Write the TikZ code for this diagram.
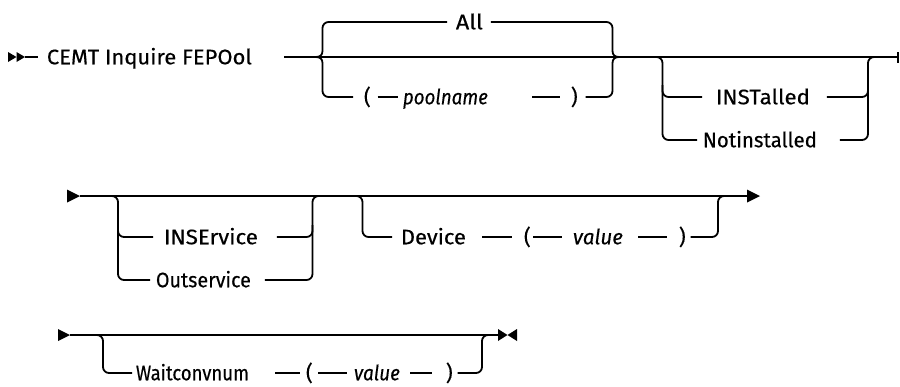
\documentclass[tikz,border=0pt]{standalone}
\usepackage{fontspec}
\usepackage{graphicx}
\setmainfont{Fira Sans}[FakeBold=0.35]
% set a token at a given width, keeping its height
\newcommand\tw[2]{\resizebox{#1}{\height}{#2}}
\begin{document}
\begin{tikzpicture}[x=1pt, y=-1pt, line width=1.8pt,
  tok/.style={inner sep=0pt, anchor=west, text height=14.5pt, text depth=0pt,
              font=\fontsize{21}{25}\selectfont},
  var/.style={tok, font=\fontsize{21}{25}\selectfont\itshape},
  rc/.style={rounded corners=6pt},
  tipfill/.style={fill=black, draw=none}]
\useasboundingbox (0,0) rectangle (900,386);

% ---------------- first line ----------------
\coordinate (st1) at (8,57);
\fill[tipfill] (8,52) -- (16.5,57) -- (8,62) -- cycle;
\fill[tipfill] (16.5,52) -- (25,57) -- (16.5,62) -- cycle;
\node[tok] (cmd) at (46,57) {\tw{205pt}{CEMT Inquire FEPOol}};
\draw ([xshift=17]st1) -- ([xshift=-8]cmd.west);

\coordinate (m1s) at (284,57);
\coordinate (m1e) at (898,57);
\draw (m1s) -- (m1e);
\draw ([yshift=-5.5]m1e) -- ([yshift=5.5]m1e);

% required choice: All (default) or ( poolname )
\node[tok] (all) at (455,22) {\tw{27pt}{All}};
\node[tok] (lp1) at (363,97) {(};
\node[var] (pool) at (402,97) {\tw{85pt}{poolname}};
\node[tok] (rp1) at (570,97) {)};

\draw[rc] ([xshift=-8]all.west) -| (322.5,45) [sharp corners] -- (322.5,51)
  .. controls (322.5,55) and (320,57) .. (316,57)
  .. controls (320,57) and (322.5,59) .. (322.5,63)
  [rc] |- ([xshift=-10]lp1.west);
\draw[rc] ([xshift=7]all.east) -| (612.5,45) [sharp corners] -- (612.5,51)
  .. controls (612.5,55) and (615,57) .. (619,57)
  .. controls (615,57) and (612.5,59) .. (612.5,63)
  [rc] |- ([xshift=7]rp1.east);
\draw ([xshift=6]lp1.east) -- ([xshift=-4]pool.west);
\draw ([xshift=-38]rp1.west) -- ([xshift=-10]rp1.west);

% optional choice: INSTalled / Notinstalled
\node[tok] (inst) at (715,97) {\tw{94pt}{INSTalled}};
\node[tok] (notinst) at (702,140) {\tw{114pt}{Notinstalled}};
\draw[rc] (650,57) -| (662.5,120) |- ([xshift=-5]notinst.west);
\draw[rc] (662.5,85) |- ([xshift=-13]inst.west);
\draw[rc] ([xshift=16]inst.east) -| (868,85);
\draw[rc] ([xshift=22]notinst.east) -| (868,100) |- (882,57);

% ---------------- second line ----------------
\coordinate (st2) at (67,196);
\coordinate (en2) at (760,196);
\fill[tipfill] (67,189.5) -- (80,196) -- (67,202.5) -- cycle;
\fill[tipfill] (747,189.5) -- (760,196) -- (747,202.5) -- cycle;
\draw ([xshift=13]st2) -- ([xshift=-13]en2);

% optional choice: INSErvice / Outservice
\node[tok] (inse) at (163,237) {\tw{94pt}{INSErvice}};
\node[tok] (outs) at (155,280) {\tw{95pt}{Outservice}};
\draw[rc] (106,196) -| (118,260) |- ([xshift=-5]outs.west);
\draw[rc] (118,225) |- ([xshift=-10]inse.west);
\draw[rc] ([xshift=18]inse.east) -| (312.5,225);
\draw[rc] ([xshift=13]outs.east) -| (312.5,215) |- (324,196);

% optional: Device ( value )
\node[tok] (dev) at (400,237) {\tw{65pt}{Device}};
\node[tok] (lp2) at (523,237) {(};
\node[var] (val2) at (572,237) {\tw{50pt}{value}};
\node[tok] (rp2) at (678,237) {)};
\draw[rc] (351,196) -| (362.5,215) |- ([xshift=-8]dev.west);
\draw ([xshift=-41]lp2.west) -- ([xshift=-11]lp2.west);
\draw ([xshift=-39]val2.west) -- ([xshift=-10]val2.west);
\draw ([xshift=-40]rp2.west) -- ([xshift=-11]rp2.west);
\draw[rc] ([xshift=4]rp2.east) -| (718,215) |- (730,196);

% ---------------- third line ----------------
\coordinate (st3) at (58,335);
\coordinate (en3) at (507.5,335);
\fill[tipfill] (58,329) -- (70,335) -- (58,341) -- cycle;
\fill[tipfill] (498,329) -- (507.5,335) -- (498,341) -- cycle;
\fill[tipfill] (517,329) -- (507.5,335) -- (517,341) -- cycle;
\draw ([xshift=12]st3) -- ([xshift=-9.5]en3);

% optional: Waitconvnum ( value )
\node[tok] (wait) at (135,373) {\tw{113pt}{Waitconvnum}};
\node[tok] (lp3) at (305,373) {(};
\node[var] (val3) at (353,373) {\tw{46pt}{value}};
\node[tok] (rp3) at (445,373) {)};
\draw[rc] (91,335) -| (103,358) |- ([xshift=-3]wait.west);
\draw ([xshift=-30]lp3.west) -- ([xshift=-5]lp3.west);
\draw ([xshift=-35]val3.west) -- ([xshift=-6]val3.west);
\draw ([xshift=-35]rp3.west) -- ([xshift=-13]rp3.west);
\draw[rc] ([xshift=4]rp3.east) -| (482,358) |- (494,335);
\end{tikzpicture}
\end{document}
